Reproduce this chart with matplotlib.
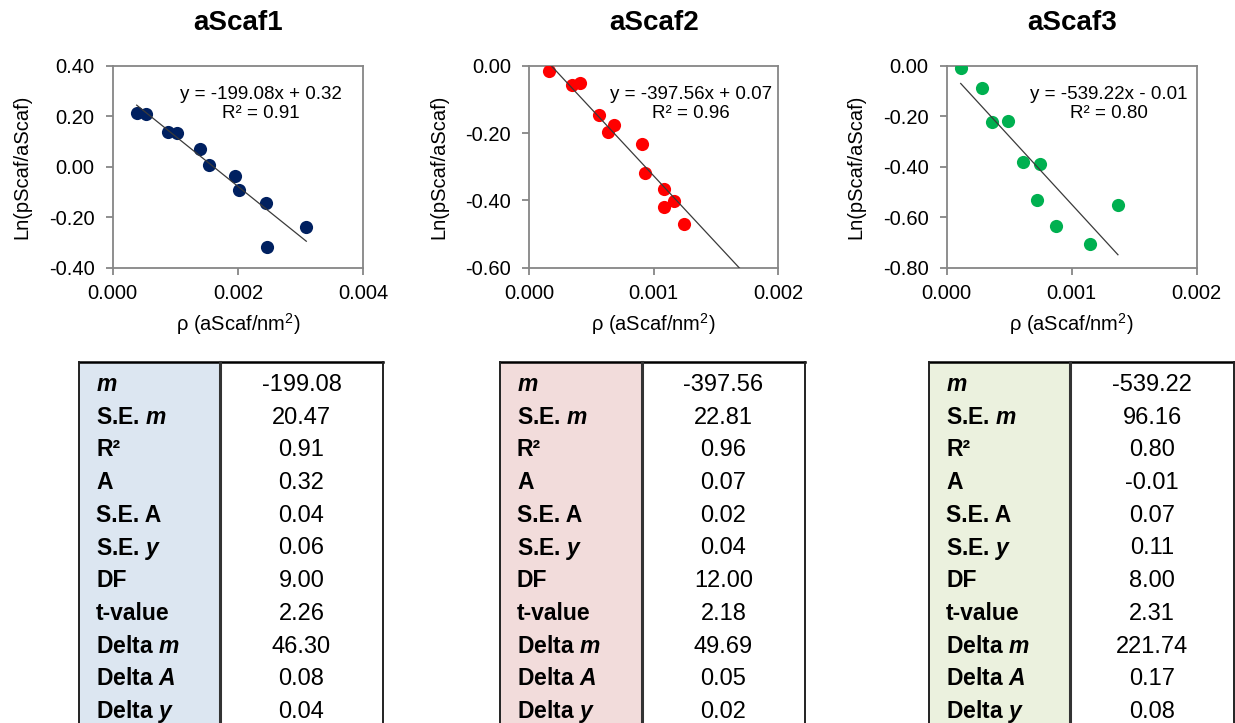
import matplotlib
matplotlib.use("Agg")
import matplotlib.pyplot as plt
from matplotlib.patches import Rectangle
from matplotlib.ticker import FormatStrFormatter, MultipleLocator

plt.rcParams["font.family"] = "Liberation Sans"
plt.rcParams["axes.unicode_minus"] = False
plt.rcParams["mathtext.fontset"] = "custom"
plt.rcParams["mathtext.rm"] = "Liberation Sans"
plt.rcParams["mathtext.it"] = "Liberation Sans:italic:bold"
plt.rcParams["mathtext.bf"] = "Liberation Sans:bold"
plt.rcParams["mathtext.default"] = "rm"

# data: density vs ln ratio for each scaffold
names = ["aScaf1", "aScaf2", "aScaf3"]

rho1 = [0.000383, 0.000527, 0.000878, 0.00102, 0.00139, 0.00154,
        0.00196, 0.00201, 0.00244, 0.00246, 0.00309]
ln1 = [0.211, 0.209, 0.139, 0.135, 0.069, 0.007,
       -0.037, -0.092, -0.145, -0.317, -0.240]

rho2 = [0.000158, 0.000343, 0.000407, 0.000560, 0.000632, 0.000680,
        0.000905, 0.000929, 0.00108, 0.00108, 0.00116, 0.00124]
ln2 = [-0.016, -0.057, -0.051, -0.147, -0.197, -0.176,
       -0.233, -0.319, -0.366, -0.420, -0.402, -0.470]

rho3 = [0.000112, 0.00028, 0.00036, 0.000493, 0.000608,
        0.000723, 0.000747, 0.000877, 0.00115, 0.00137]
ln3 = [-0.011, -0.087, -0.224, -0.219, -0.380,
       -0.533, -0.389, -0.635, -0.708, -0.550]

# regression stats (m, S.E. m, R2, A, S.E. A, S.E. y, DF, t, delta m, delta A, delta y)
stat_labels = [r"$\mathit{m}$", r"S.E. $\mathit{m}$", "R²", "A", "S.E. A",
               r"S.E. $\mathit{y}$", "DF", "t-value", r"Delta $\mathit{m}$",
               r"Delta $\mathit{A}$", r"Delta $\mathit{y}$"]
stats1 = [-199.08, 20.47, 0.91, 0.32, 0.04, 0.06, 9.00, 2.26, 46.30, 0.08, 0.04]
stats2 = [-397.56, 22.81, 0.96, 0.07, 0.02, 0.04, 12.00, 2.18, 49.69, 0.05, 0.02]
stats3 = [-539.22, 96.16, 0.80, -0.01, 0.07, 0.11, 8.00, 2.31, 221.74, 0.17, 0.08]

xs = [rho1, rho2, rho3]
ys = [ln1, ln2, ln3]
stats = [stats1, stats2, stats3]
trend_end = [max(rho1), 0.0018, max(rho3)]

dot_colors = ["#002060", "#FF0000", "#00B050"]
fill_colors = ["#DCE6F1", "#F2DCDB", "#EBF1DE"]
xmax = [0.004, 0.002, 0.002]
xstep = [0.002, 0.001, 0.001]
ylims = [(-0.4, 0.4), (-0.6, 0.0), (-0.8, 0.0)]

W, H = 1235, 723
fig = plt.figure(figsize=(W / 100, H / 100), dpi=100)

# tables drawn on a full-figure overlay in pixel units
tab = fig.add_axes([0, 0, 1, 1])
tab.set_xlim(0, W)
tab.set_ylim(H, 0)
tab.axis("off")

t_left = [79, 500, 929]
t_div = [220, 642, 1070]
t_right = [383, 805, 1234]
t_top = 362
for k in range(3):
    l, d, r = t_left[k], t_div[k], t_right[k]
    tab.add_patch(Rectangle((l, t_top), d - l, 400, facecolor=fill_colors[k],
                            edgecolor="none"))
    tab.plot([l, r], [t_top, t_top], color="black", lw=1.8)
    tab.plot([l, l], [t_top, 740], color="#222222", lw=1.4)
    tab.plot([r, r], [t_top, 740], color="#222222", lw=1.4)
    tab.plot([d, d], [t_top, 740], color="#333333", lw=2.2)
    for i, (lab, v) in enumerate(zip(stat_labels, stats[k])):
        yb = 391 + 32.7 * i
        tab.text(l + 17, yb, lab, fontsize=16.5, fontweight="bold", va="baseline")
        tab.text((d + r) / 2, yb, f"{v:.2f}", fontsize=17, ha="center", va="baseline")

# scatter panels
ax_left = [112.7, 529.3, 946.7]
ax_w = [250.6, 249.0, 250.0]
ax_top, ax_bot = 65.7, 267.7
for k in range(3):
    ax = fig.add_axes([ax_left[k] / W, 1 - ax_bot / H, ax_w[k] / W, (ax_bot - ax_top) / H])
    x, y = xs[k], ys[k]
    m, A, r2 = stats[k][0], stats[k][3], stats[k][2]

    ax.scatter(x, y, s=90, color=dot_colors[k], linewidths=0, zorder=3)
    x0, x1 = min(x), trend_end[k]
    ax.plot([x0, x1], [m * x0 + A, m * x1 + A], color="#3a3a3a", lw=0.9, zorder=4)

    ax.set_xlim(0, xmax[k])
    ax.set_ylim(*ylims[k])
    ax.xaxis.set_major_locator(MultipleLocator(xstep[k]))
    ax.yaxis.set_major_locator(MultipleLocator(0.2))
    ax.xaxis.set_major_formatter(FormatStrFormatter("%.3f"))
    ax.yaxis.set_major_formatter(FormatStrFormatter("%.2f"))

    for side in ["top", "right", "left", "bottom"]:
        ax.spines[side].set_color("#868686")
        ax.spines[side].set_linewidth(1.3)
    ax.tick_params(axis="both", direction="out", length=5, width=1.3,
                   color="#868686", labelsize=14.5)
    ax.tick_params(axis="x", pad=7)
    ax.tick_params(axis="y", pad=8)

    sign = "+" if A >= 0 else "-"
    ax.text(0.59 if k == 0 else 0.65, 0.81,
            f"y = {m:.2f}x {sign} {abs(A):.2f}\nR² = {r2:.2f}",
            transform=ax.transAxes, ha="center", va="center",
            multialignment="center", fontsize=13.5, linespacing=1.1)

    ax.set_xlabel(r"ρ (aScaf/nm$^2$)", fontsize=14.5)
    ax.xaxis.set_label_coords(0.5, -0.215)
    ax.set_ylabel("Ln(pScaf/aScaf)", fontsize=14.5)
    ax.yaxis.set_label_coords(-0.325, 0.5)
    ax.set_title(names[k], fontsize=20, fontweight="bold", pad=26)

fig.savefig("out.png", dpi=100)
